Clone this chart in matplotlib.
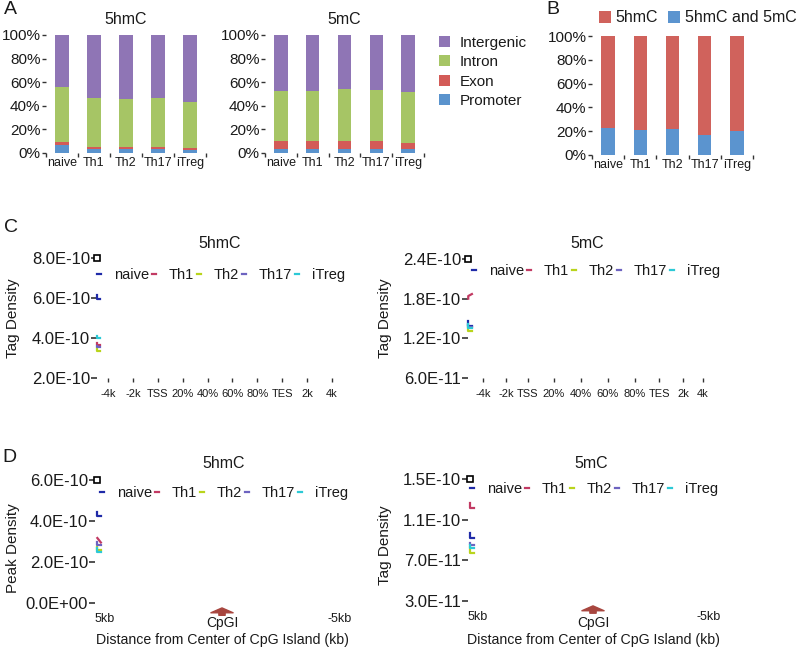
import matplotlib.pyplot as plt
import numpy as np

plt.rcParams['font.family'] = ['Liberation Sans', 'DejaVu Sans']
plt.rcParams['text.color'] = '#1a1a1a'
plt.rcParams['xtick.color'] = '#333333'
plt.rcParams['ytick.color'] = '#333333'
plt.rcParams['xtick.labelcolor'] = '#1a1a1a'
plt.rcParams['ytick.labelcolor'] = '#1a1a1a'

# ---- data ----
cells = ["naive", "Th1", "Th2", "Th17", "iTreg"]

# panel A, percent of peaks per genomic region (stacked, bottom to top)
regions = ["Promoter", "Exon", "Intron", "Intergenic"]
region_colors = ["#5a93cd", "#d35b57", "#a6c565", "#8f75b5"]
hmc_promoter = [7.0, 3.6, 3.6, 3.6, 2.8]
hmc_exon = [2.0, 1.2, 1.2, 1.2, 1.1]
hmc_intron = [47.0, 41.7, 40.6, 41.7, 39.0]
hmc_intergenic = [44.0, 53.5, 54.6, 53.5, 57.1]
mc_promoter = [3.6, 3.6, 3.6, 3.6, 3.6]
mc_exon = [6.8, 6.8, 6.8, 6.8, 4.8]
mc_intron = [42.3, 42.3, 43.9, 43.1, 43.1]
mc_intergenic = [47.3, 47.3, 45.7, 46.5, 48.5]

# panel B
both_marks = [22.3, 21.2, 21.8, 16.7, 20.3]
hmc_only = [77.7, 78.8, 78.2, 83.3, 79.7]

pct_ticks = [0, 20, 40, 60, 80, 100]
pct_labels = ["0%", "20%", "40%", "60%", "80%", "100%"]

# panels C/D: line colors and the short visible line fragments
cell_colors = ["#1f2aa8", "#c23a63", "#b9d41c", "#6d63c0", "#2cc9d6"]
gene_labels = ["-4k", "-2k", "TSS", "20%", "40%", "60%", "80%", "TES", "2k", "4k"]
gene_pos_hmc = [0, 1, 2, 3, 4, 5, 6, 7, 8, 9]
gene_pos_mc = [0, 0.94, 1.84, 2.91, 4.02, 5.12, 6.23, 7.21, 8.2, 9]
gene_stub_x = [-0.42, -0.42, -0.3]
c_hmc_stubs = [[6.15e-10, 5.95e-10, 5.95e-10], [3.75e-10, 3.65e-10, 3.65e-10],
               [3.5e-10, 3.35e-10, 3.35e-10], [3.62e-10, 3.55e-10, 3.55e-10],
               [4.1e-10, 3.98e-10, 3.98e-10]]
c_mc_stubs = [[1.46e-10, 1.39e-10, 1.39e-10], [1.80e-10, 1.84e-10, 1.87e-10],
              [1.36e-10, 1.31e-10, 1.31e-10], [1.40e-10, 1.37e-10, 1.37e-10],
              [1.41e-10, 1.36e-10, 1.36e-10]]
c_hmc_yticks = [2e-10, 4e-10, 6e-10, 8e-10]
c_hmc_ylabels = ["2.0E-10", "4.0E-10", "6.0E-10", "8.0E-10"]
c_mc_yticks = [6e-11, 1.2e-10, 1.8e-10, 2.4e-10]
c_mc_ylabels = ["6.0E-11", "1.2E-10", "1.8E-10", "2.4E-10"]

cpg_stub_x = [5.3, 5.3, 5.15]
d_hmc_stubs = [[4.42e-10, 4.25e-10, 4.25e-10], [3.17e-10, 3.17e-10, 2.95e-10],
               [2.73e-10, 2.6e-10, 2.6e-10], [2.98e-10, 2.85e-10, 2.85e-10],
               [2.68e-10, 2.5e-10, 2.5e-10]]
d_mc_stubs = [[0.97e-10, 0.92e-10, 0.92e-10], [1.26e-10, 1.21e-10, 1.21e-10],
              [0.83e-10, 0.77e-10, 0.77e-10], [0.87e-10, 0.85e-10, 0.85e-10],
              [0.85e-10, 0.82e-10, 0.82e-10]]
d_hmc_yticks = [0, 2e-10, 4e-10, 6e-10]
d_hmc_ylabels = ["0.0E+00", "2.0E-10", "4.0E-10", "6.0E-10"]
d_mc_yticks = [3e-11, 7e-11, 1.1e-10, 1.5e-10]
d_mc_ylabels = ["3.0E-11", "7.0E-11", "1.1E-10", "1.5E-10"]

W, H = 800, 650
fig = plt.figure(figsize=(W / 100, H / 100), dpi=100)


def add_ax(left, top, right, bottom):
    return fig.add_axes([left / W, 1 - bottom / H, (right - left) / W, (bottom - top) / H])


def bar_axes(ax):
    for s in ax.spines.values():
        s.set_visible(False)
    x = np.arange(len(cells))
    ax.set_xlim(-0.5, len(cells) - 0.5)
    ax.set_ylim(0, 100)
    ax.set_xticks(x, cells, fontsize=9)
    ax.set_xticks(np.arange(len(cells) + 1) - 0.5, minor=True)
    ax.tick_params(axis='x', which='major', length=0, pad=3)
    ax.tick_params(axis='x', which='minor', length=3, width=1)
    ax.set_yticks(pct_ticks, pct_labels, fontsize=11)
    ax.tick_params(axis='y', length=3, width=1, pad=1)
    return x


def stacked(ax, layers, colors):
    x = bar_axes(ax)
    bottom = np.zeros(len(cells))
    bars = []
    for vals, c in zip(layers, colors):
        bars.append(ax.bar(x, vals, 0.42, bottom=bottom, color=c, linewidth=0))
        bottom += np.array(vals)
    return bars


# ---- panel A ----
ax1 = add_ax(46, 35, 206, 153)
stacked(ax1, [hmc_promoter, hmc_exon, hmc_intron, hmc_intergenic], region_colors)
ax1.set_title("5hmC", fontsize=11.5, pad=8)

ax2 = add_ax(265, 35, 424, 153)
bars_a = stacked(ax2, [mc_promoter, mc_exon, mc_intron, mc_intergenic], region_colors)
ax2.set_title("5mC", fontsize=11.5, pad=8)
fig.legend([b[0] for b in bars_a[::-1]], regions[::-1], loc='upper left',
           bbox_to_anchor=(431 / W, 1 - 28 / H), frameon=False, fontsize=11,
           handlelength=0.75, handleheight=0.75, handletextpad=0.6,
           labelspacing=0.36, borderpad=0)

# ---- panel B ----
ax3 = add_ax(592, 36, 753, 155)
bars_b = stacked(ax3, [both_marks, hmc_only], ["#5b94cf", "#d0625c"])
fig.legend([bars_b[1][0], bars_b[0][0]], ["5hmC", "5hmC and 5mC"], loc='center left',
           bbox_to_anchor=(591 / W, 1 - 18 / H), frameon=False, fontsize=11.5, ncol=2,
           handlelength=0.75, handleheight=0.75, handletextpad=0.3,
           columnspacing=0.6, borderpad=0)


def line_axes(ax, yticks, ylabels):
    for s in ax.spines.values():
        s.set_visible(False)
    ax.set_yticks(yticks, ylabels, fontsize=12)
    ax.set_ylim(yticks[0], yticks[-1])
    ax.tick_params(axis='y', length=4, width=1.2, pad=1)


def stubs(ax, xs, series, lx, ly):
    for vals, c, name in zip(series, cell_colors, cells):
        ax.plot(xs, vals, color=c, lw=1.6, label=name, clip_on=False)
    ax.plot([xs[1]], [ax.get_ylim()[1]], marker='s', ms=4, mfc='white', mec='black',
            mew=1.2, clip_on=False)
    ax.legend(loc='center left', bbox_to_anchor=(lx / W, 1 - ly / H),
              bbox_transform=fig.transFigure, ncol=5, frameon=False, fontsize=10.5,
              handlelength=0.3, handletextpad=0.85, columnspacing=0.2,
              borderpad=0, borderaxespad=0)


# ---- panel C ----
ax4 = add_ax(97, 258, 342, 378)
line_axes(ax4, c_hmc_yticks, c_hmc_ylabels)
ax4.set_xlim(-0.44, 9.4)
ax4.set_xticks(gene_pos_hmc, gene_labels, fontsize=8)
ax4.tick_params(axis='x', length=3, width=1, pad=5)
stubs(ax4, gene_stub_x, c_hmc_stubs, 97, 275)
fig.text(220 / W, 1 - 243 / H, "5hmC", fontsize=11.5, ha='center', va='center')
fig.text(13 / W, 1 - 318 / H, "Tag Density", fontsize=11, rotation=90, ha='center', va='center')

ax5 = add_ax(468, 259, 715, 378)
line_axes(ax5, c_mc_yticks, c_mc_ylabels)
ax5.set_xlim(-0.61, 9.5)
ax5.set_xticks(gene_pos_mc, gene_labels, fontsize=8)
ax5.tick_params(axis='x', length=3, width=1, pad=5)
stubs(ax5, [-0.6, -0.6, -0.45], c_mc_stubs, 472, 271)
fig.text(587 / W, 1 - 243 / H, "5mC", fontsize=11.5, ha='center', va='center')
fig.text(385 / W, 1 - 318 / H, "Tag Density", fontsize=11, rotation=90, ha='center', va='center')


# ---- panel D ----
def cpg_axes(ax, xc):
    ax.set_xlim(5.4, -5.4)
    ax.set_xticks([5, -5], ["5kb", "-5kb"], fontsize=9)
    ax.tick_params(axis='x', length=0, pad=7)
    ax.annotate("", xy=(0, -0.04), xytext=(0, -0.1),
                xycoords=ax.get_xaxis_transform(), textcoords=ax.get_xaxis_transform(),
                arrowprops=dict(arrowstyle='simple,head_length=0.35,head_width=1.6,tail_width=0.45',
                                fc='#a8463f', ec='#a8463f', mutation_scale=10,
                                shrinkA=0, shrinkB=0))
    fig.text(xc / W, 1 - 623 / H, "CpGI", fontsize=10, ha='center', va='center')
    fig.text(xc / W, 1 - 640 / H, "Distance from Center of CpG Island (kb)",
             fontsize=10.2, ha='center', va='center')


ax6 = add_ax(95, 480, 349, 603)
line_axes(ax6, d_hmc_yticks, d_hmc_ylabels)
cpg_axes(ax6, 222)
stubs(ax6, cpg_stub_x, d_hmc_stubs, 100, 493)
fig.text(224 / W, 1 - 463 / H, "5hmC", fontsize=11.5, ha='center', va='center')
fig.text(13 / W, 1 - 548 / H, "Peak Density", fontsize=11, rotation=90, ha='center', va='center')

ax7 = add_ax(468, 479, 718, 601)
line_axes(ax7, d_mc_yticks, d_mc_ylabels)
cpg_axes(ax7, 593)
stubs(ax7, cpg_stub_x, d_mc_stubs, 470, 489)
fig.text(591 / W, 1 - 463 / H, "5mC", fontsize=11.5, ha='center', va='center')
fig.text(385 / W, 1 - 545 / H, "Tag Density", fontsize=11, rotation=90, ha='center', va='center')

# panel letters
for letter, px, py in [("A", 10, 10), ("B", 553, 10), ("C", 11, 227), ("D", 9, 458)]:
    fig.text(px / W, 1 - py / H, letter, fontsize=14, ha='center', va='center')

fig.savefig("out.png", dpi=100)
